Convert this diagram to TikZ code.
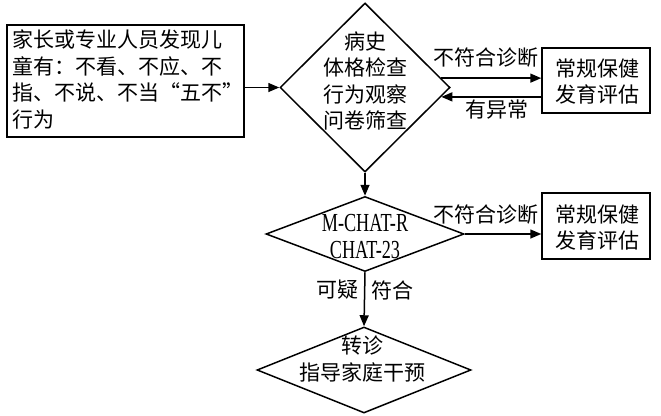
\documentclass[tikz,border=0pt]{standalone}
\usepackage{fontspec}
\setmainfont{Noto Sans CJK SC}
\newfontfamily\chatfont[FakeStretch=0.7]{Liberation Serif}
\usetikzlibrary{shapes.geometric, positioning, arrows.meta}

\begin{document}
\begin{tikzpicture}[x=1pt, y=-1pt,
	box/.style={draw, line width=1.5pt, inner sep=0pt},
	decide/.style={draw, diamond, line width=1.5pt, inner sep=0pt},
	txt/.style={align=center, inner sep=0pt, font=\fontsize{21}{26.5}\selectfont},
	arr/.style={line width=1.5pt, -{Triangle[length=11pt, width=9pt]}}]
	\useasboundingbox (0,0) rectangle (661,415);

	% Starting box on the left
	\node[box, minimum width=237pt, minimum height=112pt] (start) at (125.5,81) {};
	\node[txt, align=left, anchor=north west] (starttxt) at (12,30)
		{家长或专业人员发现儿\\童有：不看、不应、不\\指、不说、不当“五不”\\行为};

	% Draw the three diamonds
	\node[decide, minimum width=170pt, minimum height=169pt] (d1) at (365,87.5) {};
	\node[txt] (d1txt) at (365,81) {病史\\体格检查\\行为观察\\问卷筛查};
	\node[decide, minimum width=198pt, minimum height=75pt] (d2) at (365,234) {};
	\node[txt, font=\chatfont\fontsize{26}{27}\selectfont] (d2txt) at (365,237) {M-CHAT-R\\CHAT-23};
	\node[decide, minimum width=214pt, minimum height=86pt] (d3) at (364,370) {};
	\node[txt] (d3txt) at (362,359) {转诊\\指导家庭干预};

	% Boxes on the right
	\node[box, minimum width=108pt, minimum height=65pt] (care1) at (596,80.5) {};
	\node[txt] (care1txt) at (597,81.5) {常规保健\\发育评估};
	\node[box, minimum width=108pt, minimum height=66pt] (care2) at (596,226) {};
	\node[txt] (care2txt) at (597,227.5) {常规保健\\发育评估};

	% Connect the nodes
	\draw[arr] (start.east |- d1) -- (d1.west);
	\draw[arr] (d1.7) -- (d1.7 -| care1.west);
	\draw[arr] (care1.west |- d1.-7) -- (d1.-7);
	\draw[arr] (d1.south) -- (d2.north);
	\draw[arr] (d2.east) -- (d2.east -| care2.west);
	\draw[arr] (d2.south) -- (d3.north);

	% Labels of the connectors
	\node[txt] (no1) at (486,58) {不符合诊断};
	\node[txt] (odd) at (497,110) {有异常};
	\node[txt] (no2) at (486,215) {不符合诊断};
	\node[txt] (susp) at (337,290) {可疑};
	\node[txt] (fit) at (392,290) {符合};
\end{tikzpicture}
\end{document}
